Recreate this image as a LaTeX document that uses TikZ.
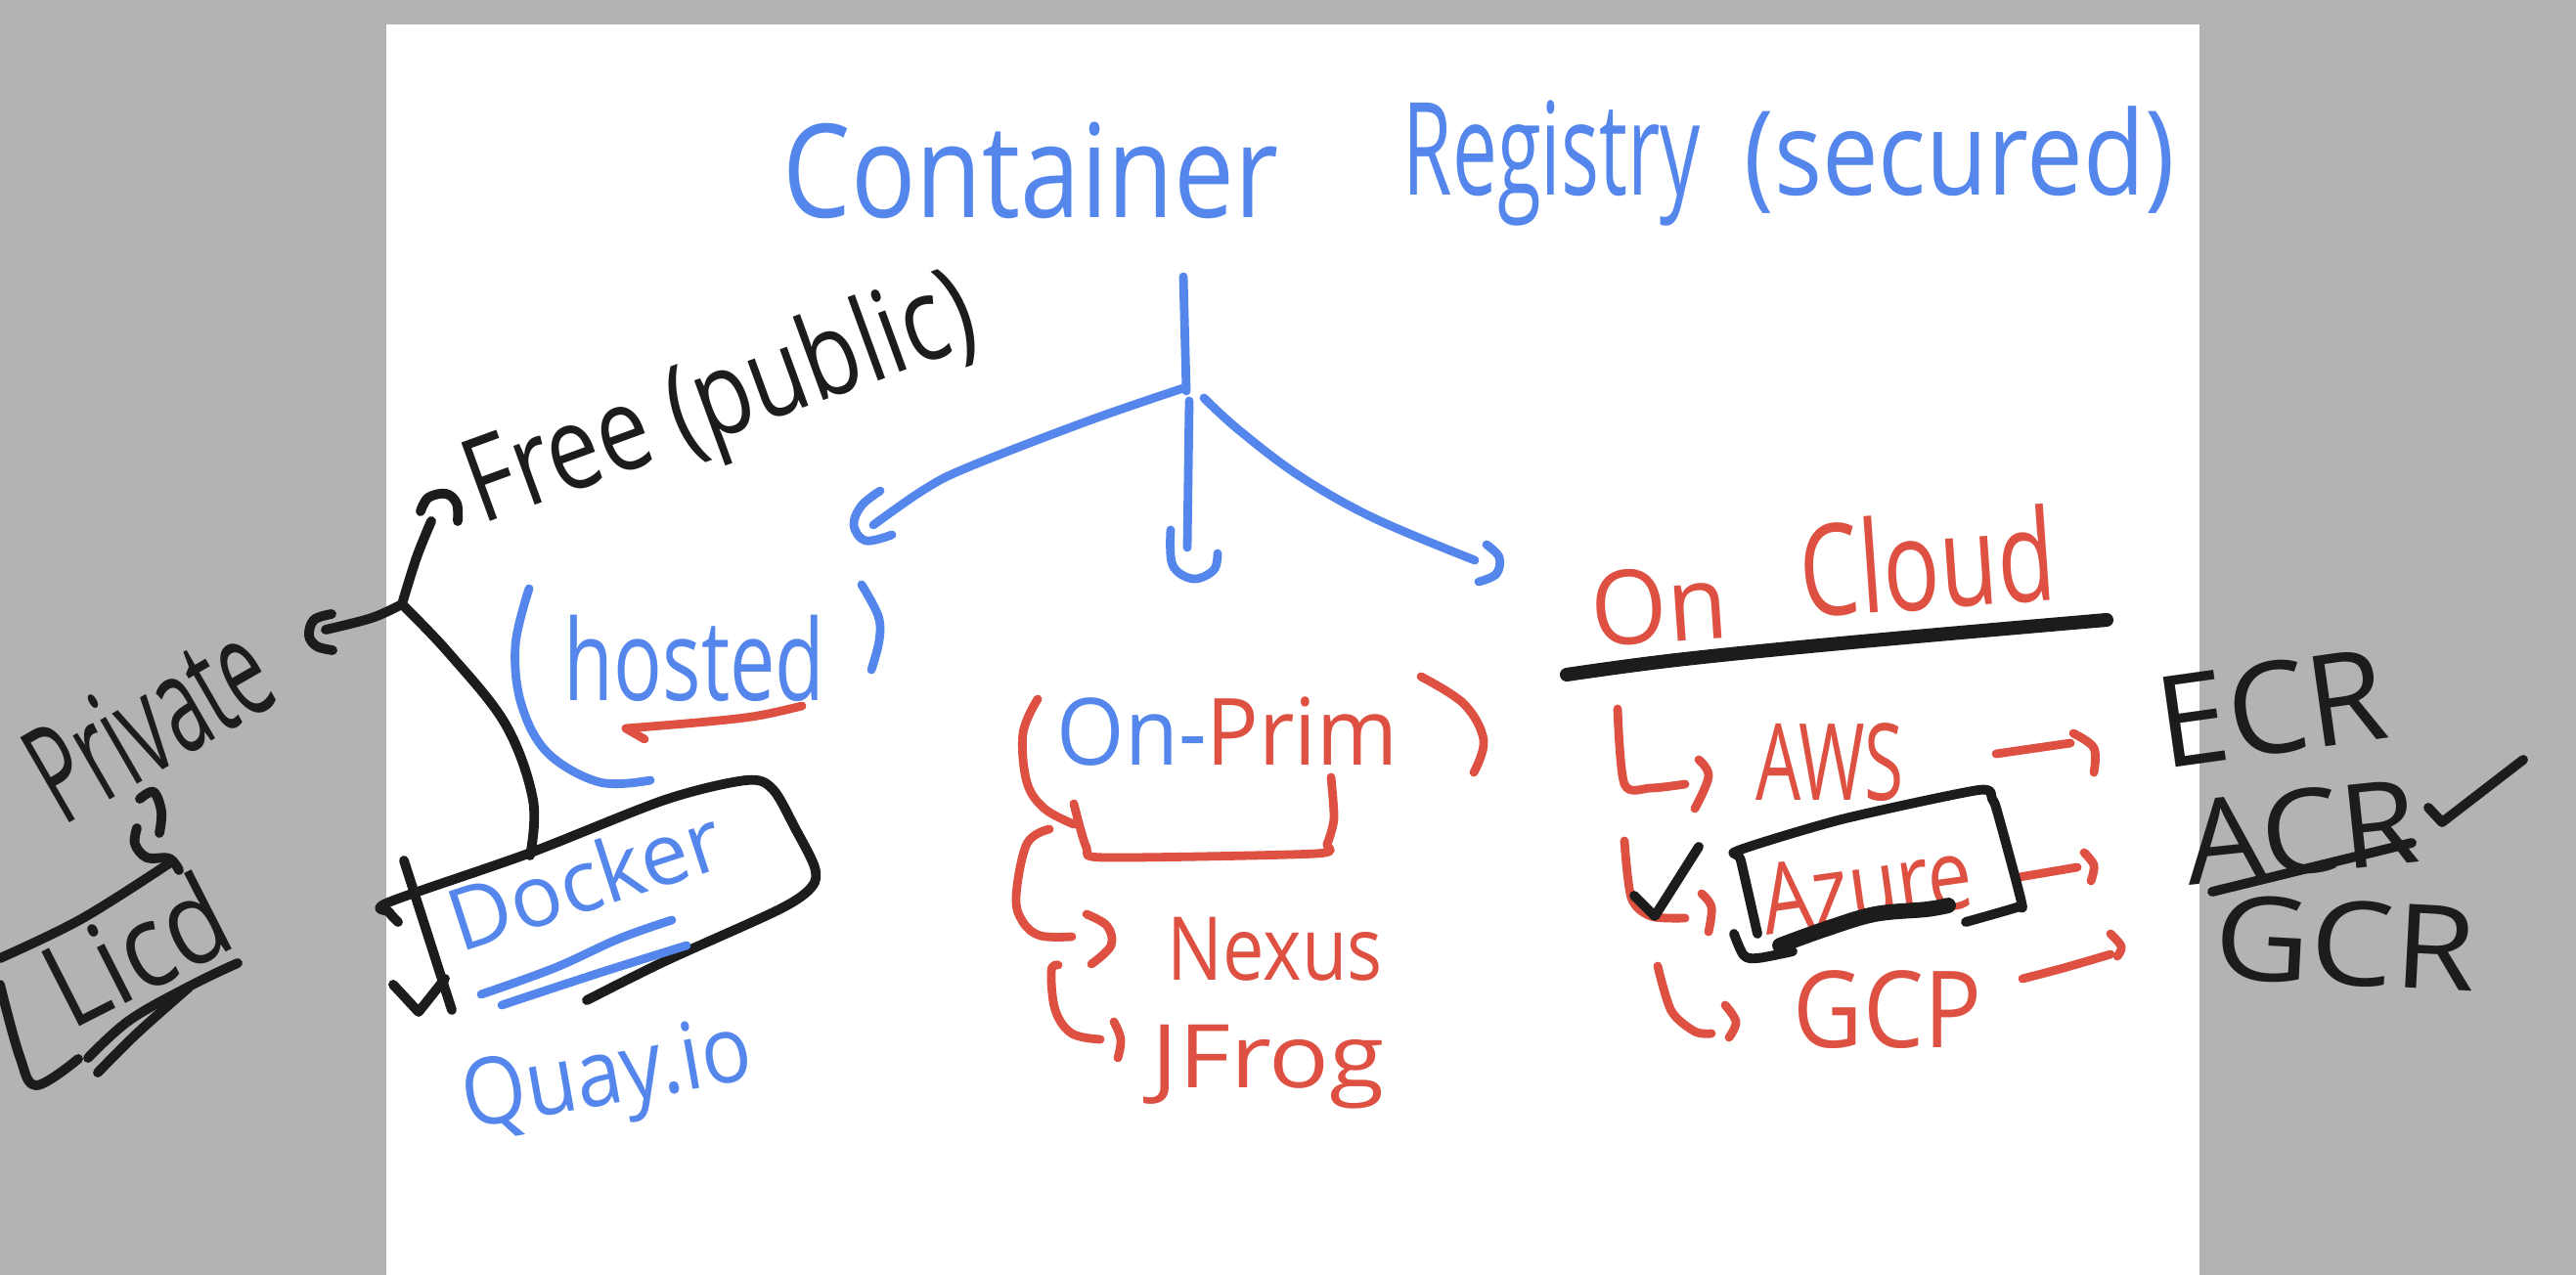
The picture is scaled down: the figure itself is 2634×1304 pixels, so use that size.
\documentclass[tikz,border=0pt]{standalone}
\usepackage{fontspec}
\usepackage{graphicx}
\setmainfont{Open Sans}
\definecolor{hblue}{RGB}{84,134,236}
\definecolor{hred}{RGB}{221,80,66}
\definecolor{hblack}{RGB}{28,28,28}
\definecolor{bggray}{RGB}{179,179,179}
\newcommand\hw[3]{\scalebox{#1}[1]{\fontsize{#2}{#2}\selectfont #3}}
\begin{document}
\begin{tikzpicture}[x=0.01cm,y=-0.01cm,
  pen/.style={line width=2.5pt,line cap=round,line join=round},
  bpen/.style={pen,draw=hblue},
  rpen/.style={pen,draw=hred},
  kpen/.style={pen,draw=hblack,line width=2.8pt},
  thickpen/.style={pen,draw=hblack,line width=4pt},
  lbl/.style={inner sep=0pt,anchor=base west}]
\fill[bggray] (0,0) rectangle (2634,1304);
\fill[white] (395,25) rectangle (2249,1304);
\useasboundingbox (0,0) rectangle (2634,1304);

% ---------- title ----------
\node[lbl,text=hblue] (t1) at (800,223) {\hw{0.83}{37.8pt}{Container}};
\node[lbl,text=hblue] (t2) at (1434,200) {\hw{0.62}{37.5pt}{Registry}};
\node[lbl,text=hblue] (t3) at (1783,200) {\hw{0.86}{34pt}{(secured)}};

% ---------- tree ----------
\coordinate (stemtop) at (1210,283);
\coordinate (J) at (1213,400);
\coordinate (ltip) at (893,537);
\coordinate (mtip) at (1214,560);
\coordinate (rtip) at (1508,573);
\draw[bpen] (stemtop) -- (J);
\draw[bpen] plot[smooth,tension=0.6] coordinates {(1210,397) (1114,430) (992,477) (946,500) (ltip)};
\draw[bpen] plot[smooth,tension=0.6] coordinates {(900,502) (881,517) (873,537) (885,553) (912,547)};
\draw[bpen] (1216,410) -- (mtip);
\draw[bpen] plot[smooth,tension=0.6] coordinates {(1197,542) (1199,578) (1220,592) (1241,583) (1245,566)};
\draw[bpen] plot[smooth,tension=0.6] coordinates {(1231,407) (1267,440) (1329,487) (1405,530) (rtip)};
\draw[bpen] plot[smooth,tension=0.6] coordinates {(1520,557) (1533,570) (1530,587) (1512,595)};

% ---------- left: free / private ----------
\node[lbl,rotate=20,text=hblack] (free) at (492,537) {\hw{0.8}{34pt}{Free (public)}};
\node[lbl,rotate=30,text=hblack] (private) at (64,846) {\hw{0.57}{40pt}{Private}};
\coordinate (P) at (411,618);
\draw[kpen] plot[smooth,tension=0.6] coordinates {(P) (426,570) (441,533)};
\draw[kpen] plot[smooth,tension=0.6] coordinates {(430,523) (438,509) (456,505) (467,515) (468,533)};
\draw[kpen] plot[smooth,tension=0.6] coordinates {(P) (380,632) (333,644)};
\draw[kpen] plot[smooth,tension=0.6] coordinates {(339,628) (321,634) (316,650) (324,661) (340,665)};
\draw[kpen] plot[smooth,tension=0.6] coordinates {(P) (459,668) (517,741) (545,818) (542,875)};

% ---------- hosted ----------
\node[lbl,text=hblue] (hosted) at (576,717) {\hw{0.72}{32.7pt}{hosted}};
\draw[bpen] plot[smooth,tension=0.6] coordinates {(541,602) (527,660) (533,720) (560,770) (613,800) (665,798)};
\draw[bpen] plot[smooth,tension=0.6] coordinates {(881,598) (898,630) (899,655) (891,685)};
\draw[rpen] plot[smooth,tension=0.6] coordinates {(820,722) (775,732) (724,738) (640,745)};
\draw[rpen] (640,745) -- (659,756);

% ---------- Docker box ----------
\node[lbl,rotate=18,text=hblue] (docker) at (470,975) {\hw{1.0}{25pt}{Docker}};
\draw[kpen] plot[smooth,tension=0.5] coordinates {(407,943) (398,933) (397,923) (540,873) (680,818) (763,798) (790,807) (813,847) (833,887) (830,907) (797,930) (680,983) (600,1023)};
\draw[kpen] (413,880) -- (462,1033);
\draw[kpen] (402,1007) -- (428,1035) -- (455,1001);
\draw[bpen] plot[smooth,tension=0.6] coordinates {(492,1017) (567,990) (633,960) (687,941)};
\draw[bpen] plot[smooth,tension=0.6] coordinates {(513,1028) (613,995) (702,967)};

% ---------- Quay.io ----------
\node[lbl,rotate=10,text=hblue] (quay) at (478,1155) {\hw{0.89}{27pt}{Quay.io}};

% ---------- Lic ----------
\node[lbl,rotate=27,text=hblack] (lic) at (72,1055) {\hw{0.87}{34pt}{Licd}};
\draw[kpen] plot[smooth,tension=0.6] coordinates {(143,817) (157,810) (165,830) (163,852)};
\draw[kpen] plot[smooth,tension=0.6] coordinates {(140,847) (138,863) (150,877) (173,878) (183,890)};
\draw[kpen] plot[smooth,tension=0.6] coordinates {(0,980) (83,940) (173,883)};
\draw[kpen] plot[smooth,tension=0.6] coordinates {(0,1007) (20,1080) (37,1110) (80,1083)};
\draw[kpen] plot[smooth,tension=0.6] coordinates {(90,1082) (133,1043) (197,1007) (243,985)};
\draw[kpen] plot[smooth,tension=0.6] coordinates {(100,1097) (140,1057) (193,1010)};

% ---------- On-Prim ----------
\node[lbl] (onprem) at (1080,783) {\hw{0.94}{27pt}{\color{hblue}On-\color{hred}Prim}};
\draw[rpen] plot[smooth,tension=0.6] coordinates {(1061,715) (1046,750) (1050,800) (1068,827) (1098,843)};
\draw[rpen] plot[smooth,tension=0.6] coordinates {(1453,692) (1497,720) (1517,757) (1507,790)};
\draw[rpen] plot[smooth,tension=0.4] coordinates {(1098,822) (1111,867) (1129,877) (1346,873) (1357,863) (1364,837) (1361,795)};
\node[lbl,text=hred] (nexus) at (1193,1002) {\hw{0.84}{25.6pt}{Nexus}};
\node[lbl,text=hred] (jfrog) at (1177,1112) {\hw{1.14}{25.6pt}{JFrog}};
\draw[rpen] plot[smooth,tension=0.6] coordinates {(1073,848) (1050,863) (1039,917) (1046,943) (1064,957) (1096,958)};
\draw[rpen] plot[smooth,tension=0.6] coordinates {(1111,935) (1132,947) (1136,967) (1116,986)};
\draw[rpen] plot[smooth,tension=0.6] coordinates {(1082,987) (1075,993) (1079,1033) (1096,1057) (1125,1063)};
\draw[rpen] plot[smooth,tension=0.6] coordinates {(1139,1045) (1146,1063) (1143,1082)};

% ---------- On Cloud ----------
\node[lbl,rotate=4,text=hred] (on) at (1629,662) {\hw{0.95}{30pt}{On}};
\node[lbl,rotate=4,text=hred] (cloud) at (1843,632) {\hw{0.74}{37pt}{Cloud}};
\draw[thickpen] plot[smooth,tension=0.6] coordinates {(1602,690) (1714,675) (1893,657) (2154,634)};

\node[lbl,text=hred] (aws) at (1795,818) {\hw{0.67}{31pt}{AWS}};
\node[lbl,rotate=8,text=hred] (azure) at (1806,957) {\hw{0.81}{28.5pt}{Azure}};
\node[lbl,text=hred] (gcp) at (1833,1071) {\hw{0.9}{31pt}{GCP}};

\draw[rpen] plot[smooth,tension=0.5] coordinates {(1654,725) (1661,802) (1688,806) (1723,802)};
\draw[rpen] plot[smooth,tension=0.6] coordinates {(1737,777) (1747,794) (1733,827)};
\draw[rpen] plot[smooth,tension=0.5] coordinates {(1661,860) (1668,918) (1688,937) (1723,939)};
\draw[rpen] plot[smooth,tension=0.6] coordinates {(1740,914) (1750,928) (1747,953)};
\draw[rpen] plot[smooth,tension=0.5] coordinates {(1695,988) (1709,1034) (1733,1055) (1750,1057)};
\draw[rpen] plot[smooth,tension=0.6] coordinates {(1764,1028) (1775,1045) (1768,1061)};

\draw[rpen] (2041,771) -- (2117,760);
\draw[rpen] plot[smooth,tension=0.6] coordinates {(2120,750) (2141,765) (2141,790)};
\draw[rpen] (2065,897) -- (2124,887);
\draw[rpen] plot[smooth,tension=0.6] coordinates {(2131,872) (2141,885) (2138,901)};
\draw[rpen] plot[smooth,tension=0.6] coordinates {(2068,1001) (2110,990) (2158,976)};
\draw[rpen] plot[smooth,tension=0.6] coordinates {(2158,955) (2169,968) (2165,978)};

\draw[kpen] (1671,916) -- (1692,937) -- (1737,866);
\draw[kpen] plot[smooth,tension=0.4] coordinates {(1797,955) (1780,880) (1777,870) (1883,838) (2023,808) (2037,817) (2043,833) (2067,923) (2062,928) (2010,943)};
\draw[kpen] plot[smooth,tension=0.5] coordinates {(1773,955) (1783,977) (1797,980) (1833,973)};
\draw[pen,draw=hblack,line width=4.5pt] plot[smooth,tension=0.6] coordinates {(1820,967) (1867,950) (1917,935) (1970,930) (1992,926)};

\node[lbl,rotate=8,text=hblack] (ecr) at (2212,787) {\hw{1.0}{37pt}{ECR}};
\node[lbl,rotate=6,text=hblack] (acr) at (2238,906) {\hw{1.07}{34pt}{ACR}};
\node[lbl,rotate=-3,text=hblack] (gcr) at (2262,1000) {\hw{1.13}{34pt}{GCR}};
\draw[kpen] (2262,912) -- (2466,862);
\draw[kpen] (2483,826) -- (2497,841) -- (2580,777);
\end{tikzpicture}
\end{document}
